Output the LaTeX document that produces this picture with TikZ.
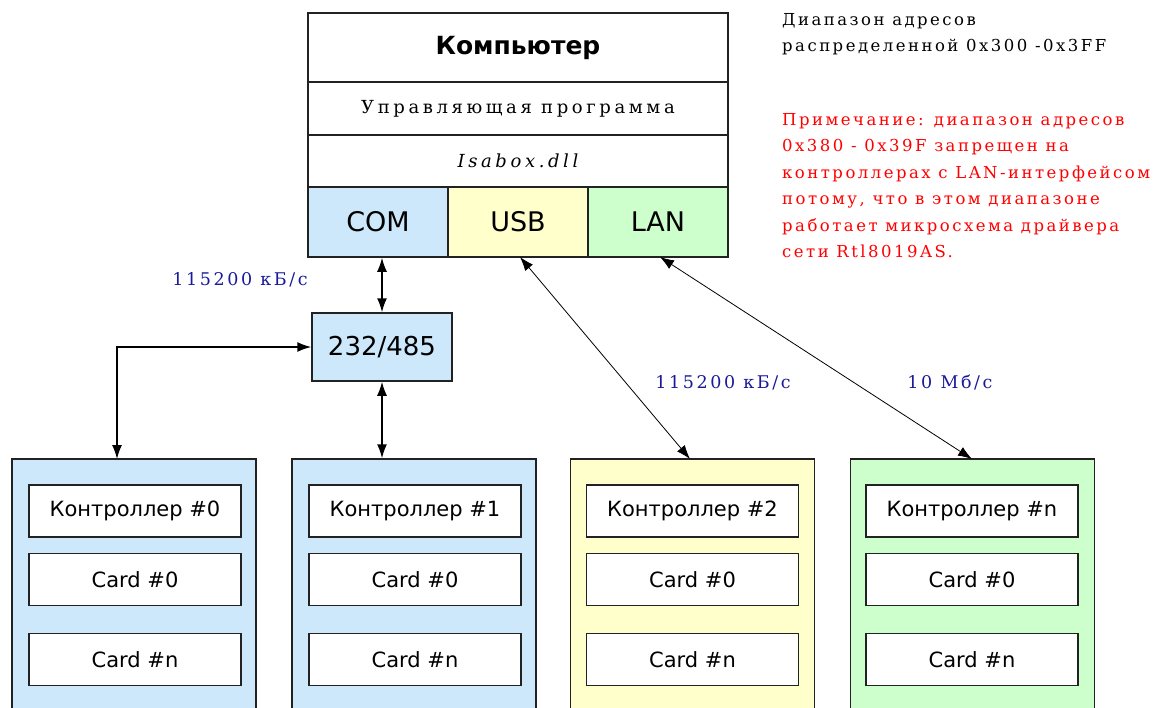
\documentclass[tikz,border=0pt]{standalone}
\usepackage{fontspec}
\setmainfont{DejaVu Sans}
\newfontfamily\bmserif{DejaVu Serif}[LetterSpace=15]
\newfontfamily\bmserifw{DejaVu Serif}[LetterSpace=20]
\usetikzlibrary{arrows.meta}
\definecolor{cblue}{HTML}{CCE8FA}
\definecolor{cyellow}{HTML}{FFFFCC}
\definecolor{cgreen}{HTML}{CCFFCC}
\definecolor{navy}{HTML}{1A1A99}
\definecolor{edge}{HTML}{222222}
\tikzset{
  cell/.style={draw=edge, line width=1.5pt, inner sep=0pt, minimum width=420pt},
  port/.style={draw=edge, line width=1.5pt, inner sep=0pt, minimum width=140pt, minimum height=70pt, font=\fontsize{27}{29}\selectfont},
  group/.style={draw=edge, line width=1.5pt, inner sep=0pt, minimum width=244pt, minimum height=262pt},
  inner/.style={draw=edge, line width=1.5pt, fill=white, inner sep=0pt, minimum width=212pt, minimum height=52pt, font=\fontsize{21}{24}\selectfont},
  thick arr/.style={line width=1.5pt, {Latex[length=14pt,width=10pt]}-{Latex[length=14pt,width=10pt]}},
  thin arr/.style={line width=0.8pt, {Latex[length=14pt,width=10pt]}-{Latex[length=14pt,width=10pt]}},
  rate/.style={text=navy, font=\bmserif\fontsize{17.5}{20}\selectfont, inner sep=0pt},
  note/.style={font=\bmserif\fontsize{16.5}{26.5}\selectfont, align=left, anchor=north west, inner sep=0pt}
}
\begin{document}
\begin{tikzpicture}[x=1pt,y=-1pt]
\useasboundingbox (0,0) rectangle (1164,707);
\begin{scope}
\clip (0,0) rectangle (1164,707);
% computer
\node[cell, minimum height=69pt, font=\bfseries\fontsize{25}{28}\selectfont] (title) at (518,47.5) {Компьютер};
\node[cell, minimum height=53pt, font=\bmserifw\fontsize{18}{20}\selectfont] (prog) at (518,108.5) {Управляющая программа};
\node[cell, minimum height=52pt, font=\bmserifw\itshape\fontsize{18}{20}\selectfont] (dll) at (518,161) {Isabox.dll};
\node[port, fill=cblue] (com) at (378,222) {COM};
\node[port, fill=cyellow] (usb) at (518,222) {USB};
\node[port, fill=cgreen] (lan) at (658,222) {LAN};
% converter
\node[draw=edge, line width=1.5pt, fill=cblue, minimum width=140pt, minimum height=68pt, inner sep=0pt, font=\fontsize{26}{28}\selectfont] (conv) at (382,347) {232/485};
% groups
\node[group, fill=cblue] (g0) at (134,590) {};
\node[group, fill=cblue] (g1) at (414,590) {};
\node[group, fill=cyellow] (g2) at (692.5,590) {};
\node[group, fill=cgreen] (g3) at (972.5,590) {};
\foreach \g/\cx/\lab in {0/135/0, 1/415/1, 2/692.5/2, 3/972/n}{
  \node[inner] (k\g) at (\cx,511) {Контроллер \#\lab};
  \node[inner] (c\g a) at (\cx,579.5) {Card \#0};
  \node[inner] (c\g b) at (\cx,659.5) {Card \#n};
}
\end{scope}
% connectors
\coordinate (t0) at (117,459);
\draw[thick arr] (com.south -| conv.north) -- (conv.north);
\draw[thick arr] (conv.west) -| (t0);
\draw[thick arr] (conv.south) -- (conv.south |- g1.north);
\coordinate (uf) at (520,257);
\coordinate (ut) at (690,459);
\coordinate (lf) at (660,257);
\coordinate (lt) at (972,459);
\draw[thin arr] (uf) -- (ut);
\draw[thin arr] (lf) -- (lt);
% labels
\node[rate] (r1) at (240,280) {115200 кБ/с};
\node[rate] (r2) at (723,383) {115200 кБ/с};
\node[rate] (r3) at (950,383) {10 Мб/с};
\node[note] (n1) at (782,13) {Диапазон адресов\\распределенной 0x300 -0x3FF};
\node[note, text=red] (n2) at (782,113) {Примечание: диапазон адресов\\0x380 - 0x39F запрещен на\\контроллерах с LAN-интерфейсом\\потому, что в этом диапазоне\\работает микросхема драйвера\\сети Rtl8019AS.};
\end{tikzpicture}
\end{document}
